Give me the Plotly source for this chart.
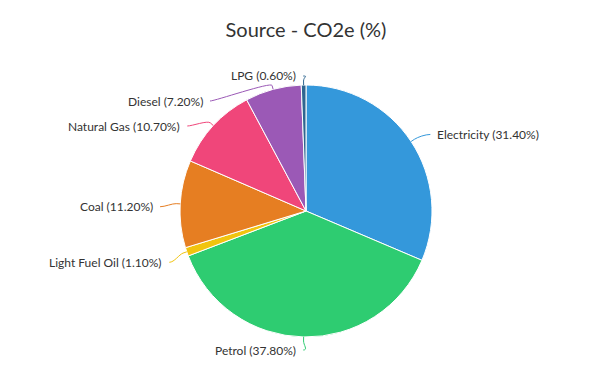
import math
import plotly.graph_objects as go

# ---- data ----
labels = ["Electricity", "Petrol", "Light Fuel Oil", "Coal", "Natural Gas", "Diesel", "LPG"]
values = [31.40, 37.80, 1.10, 11.20, 10.70, 7.20, 0.60]
colors = ["#3498db", "#2ecc71", "#f1c40f", "#e67e22", "#f0467a", "#9b59b6", "#2f6690"]
title_text = "Source - CO2e (%)"

# ---- geometry (layout constants, page pixels) ----
OFF = 8                      # default page body margin
W, H = 611 - OFF, 376 - OFF  # figure size
CX, CY, R = 306, 211, 126
DIST = 20          # label distance outside the pie
PAD = 5            # connector padding
TOP, BOTTOM = 76, 350
GAP = 25
FONT = "Lato, 'Open Sans', sans-serif"


def px(x):
    return (x - OFF) / W


def py(y):
    return 1 - (y - OFF) / H


fig = go.Figure()
fig.add_trace(go.Pie(
    labels=labels, values=values, sort=False, direction="clockwise", rotation=0,
    marker=dict(colors=colors, line=dict(color="white", width=1)),
    textinfo="none", hoverinfo="label+percent", showlegend=False,
    domain=dict(x=[px(CX - R), px(CX + R)], y=[py(CY + R), py(CY - R)]),
))

# label placement derived from slice angles
total = sum(values)
items = []
cum = 0.0
RL = R + DIST
for lab, v, c in zip(labels, values, colors):
    th = math.radians((cum + v / 2) / total * 360)
    cum += v
    s, co = math.sin(th), math.cos(th)
    items.append(dict(
        label=lab, value=v, color=c,
        left=(th > math.pi),
        ex=CX + R * s, ey=CY - R * co,
        bx=CX + (R + DIST / 5) * s, by=CY - (R + DIST / 5) * co,
        nx=CX + RL * s, ny=CY - RL * co + 4,
    ))

for side in (True, False):
    grp = sorted([it for it in items if it["left"] == side], key=lambda d: d["ny"])
    prev = None
    for it in grp:
        y = min(max(it["ny"], TOP), BOTTOM)
        if prev is not None and y < prev + GAP:
            y = prev + GAP
        it["y"] = y
        prev = y
    nxt = None
    for it in reversed(grp):
        if it["y"] > BOTTOM:
            it["y"] = BOTTOM
        if nxt is not None and it["y"] > nxt - GAP:
            it["y"] = nxt - GAP
        nxt = it["y"]
    for it in grp:
        y = it["y"]
        if y <= TOP + 2 or y >= BOTTOM - 2:
            it["x"] = it["nx"]
        else:
            dy = max(-RL, min(RL, y - CY))
            it["x"] = CX + (-1 if side else 1) * math.sqrt(RL * RL - dy * dy)

shapes = []
annotations = []
for it in items:
    ax, ay = it["x"], it["y"]
    c1x = ax + (5 if it["left"] else -5)
    c2x = 2 * it["bx"] - it["ex"]
    c2y = 2 * it["by"] - it["ey"]
    path = (f"M {px(ax)},{py(ay)} C {px(c1x)},{py(ay)} {px(c2x)},{py(c2y)} "
            f"{px(it['bx'])},{py(it['by'])} L {px(it['ex'])},{py(it['ey'])}")
    shapes.append(dict(type="path", xref="paper", yref="paper", path=path,
                       line=dict(color=it["color"], width=1), layer="above"))
    annotations.append(dict(
        xref="paper", yref="paper",
        x=px(ax + (-PAD if it["left"] else PAD)), y=py(ay),
        xanchor="right" if it["left"] else "left", yanchor="middle",
        text=f"{it['label']} ({it['value']:.2f}%)", showarrow=False,
        font=dict(family=FONT, size=12, color="#333333"),
    ))

fig.update_layout(
    width=W, height=H,
    margin=dict(l=0, r=0, t=0, b=0),
    paper_bgcolor="white", plot_bgcolor="white",
    title=dict(text=title_text, x=px(CX), xanchor="center", y=py(30), yanchor="middle",
               yref="container", font=dict(family=FONT, size=20, color="#333333")),
    shapes=shapes, annotations=annotations,
)

fig.write_html("out.html")
